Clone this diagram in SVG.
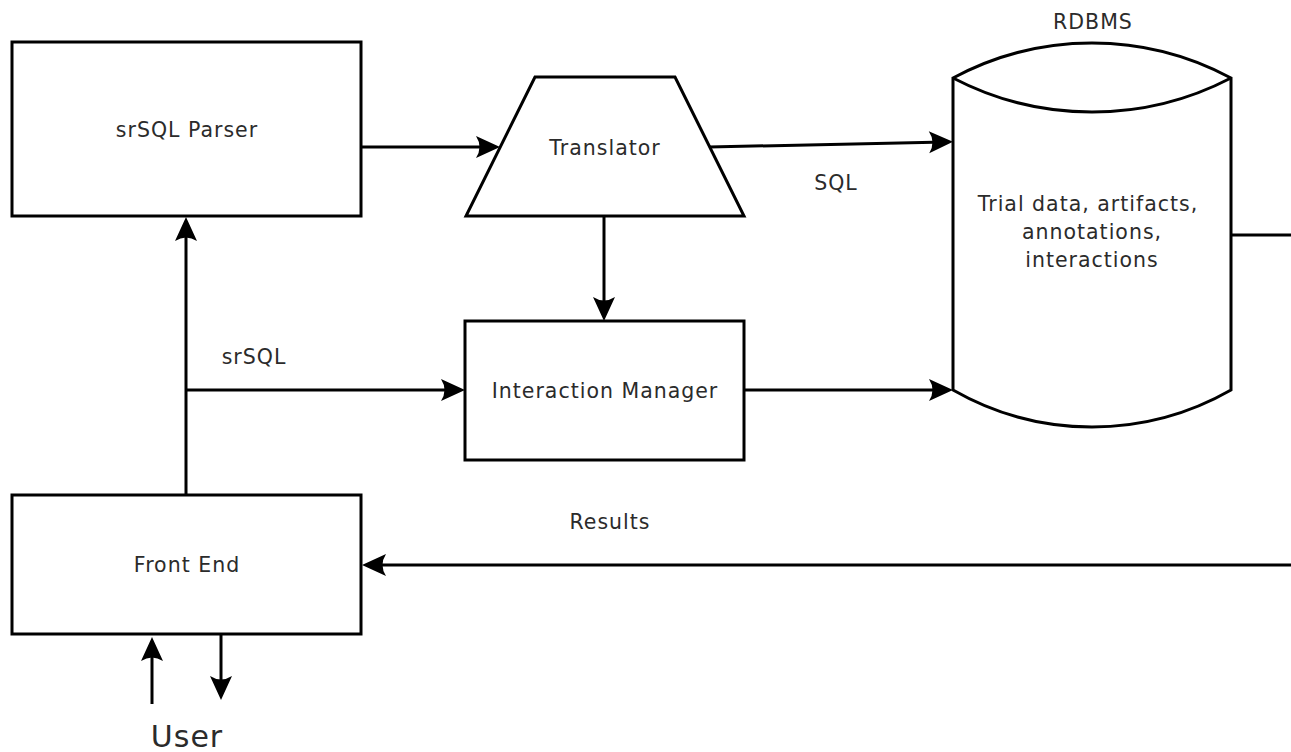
<svg xmlns="http://www.w3.org/2000/svg" width="1291" height="752" viewBox="0 0 1291 752">
<style>
.box{fill:#fff;stroke:#000;stroke-width:3}
.ln{fill:none;stroke:#000;stroke-width:3}
.arr{marker-end:url(#ah)}
text{font-family:"DejaVu Sans",sans-serif;font-size:20.5px;letter-spacing:1px;fill:#2b2b2b;text-anchor:middle}
</style>
<defs>
<marker id="ah" markerUnits="userSpaceOnUse" viewBox="-26 -13 28 26" refX="-8" refY="0" markerWidth="28" markerHeight="26" orient="auto" overflow="visible">
<path d="M0,0 L-24,-11 Q-17,0 -24,11 Z" fill="#000"/>
</marker>
</defs>
<rect width="1291" height="752" fill="#fff"/>
<g id="connectors">
<line class="ln arr" x1="361" y1="147" x2="492" y2="147"/>
<line class="ln arr" x1="709" y1="147" x2="945" y2="142"/>
<line class="ln arr" x1="604" y1="216" x2="604" y2="313"/>
<line class="ln arr" x1="186" y1="495" x2="186" y2="225"/>
<line class="ln arr" x1="186" y1="390" x2="457" y2="390"/>
<line class="ln arr" x1="744" y1="390" x2="945" y2="390"/>
<polyline class="ln" points="1231,235 1295,235"/>
<line class="ln arr" x1="1295" y1="565" x2="370" y2="565"/>
<line class="ln arr" x1="152" y1="704" x2="152" y2="645"/>
<line class="ln arr" x1="221" y1="634" x2="221" y2="692"/>
<text x="254" y="364">srSQL</text>
<text x="836" y="190">SQL</text>
<text x="610" y="529">Results</text>
</g>
<g id="parser">
<rect class="box" x="12" y="42" width="349" height="174"/>
<text x="187" y="137">srSQL Parser</text>
</g>
<g id="translator">
<polygon class="box" points="535,77 675,77 744,216 466,216"/>
<text x="605" y="155">Translator</text>
</g>
<g id="rdbms">
<path class="box" d="M953,78 A293.5,293.5 0 0 1 1231,78 L1231,390 A280,280 0 0 1 953,390 Z"/>
<path class="ln" d="M953,78 A301,301 0 0 0 1231,78"/>
<text x="1093" y="29">RDBMS</text>
<text x="1088" y="211">Trial data, artifacts,</text>
<text x="1092" y="239">annotations,</text>
<text x="1092" y="267">interactions</text>
</g>
<g id="interaction-manager">
<rect class="box" x="465" y="321" width="279" height="139"/>
<text x="605" y="398">Interaction Manager</text>
</g>
<g id="front-end">
<rect class="box" x="12" y="495" width="349" height="139"/>
<text x="187" y="572">Front End</text>
</g>
<g id="user">
<text x="187" y="747" style="font-size:30px;letter-spacing:1px">User</text>
</g>
</svg>
